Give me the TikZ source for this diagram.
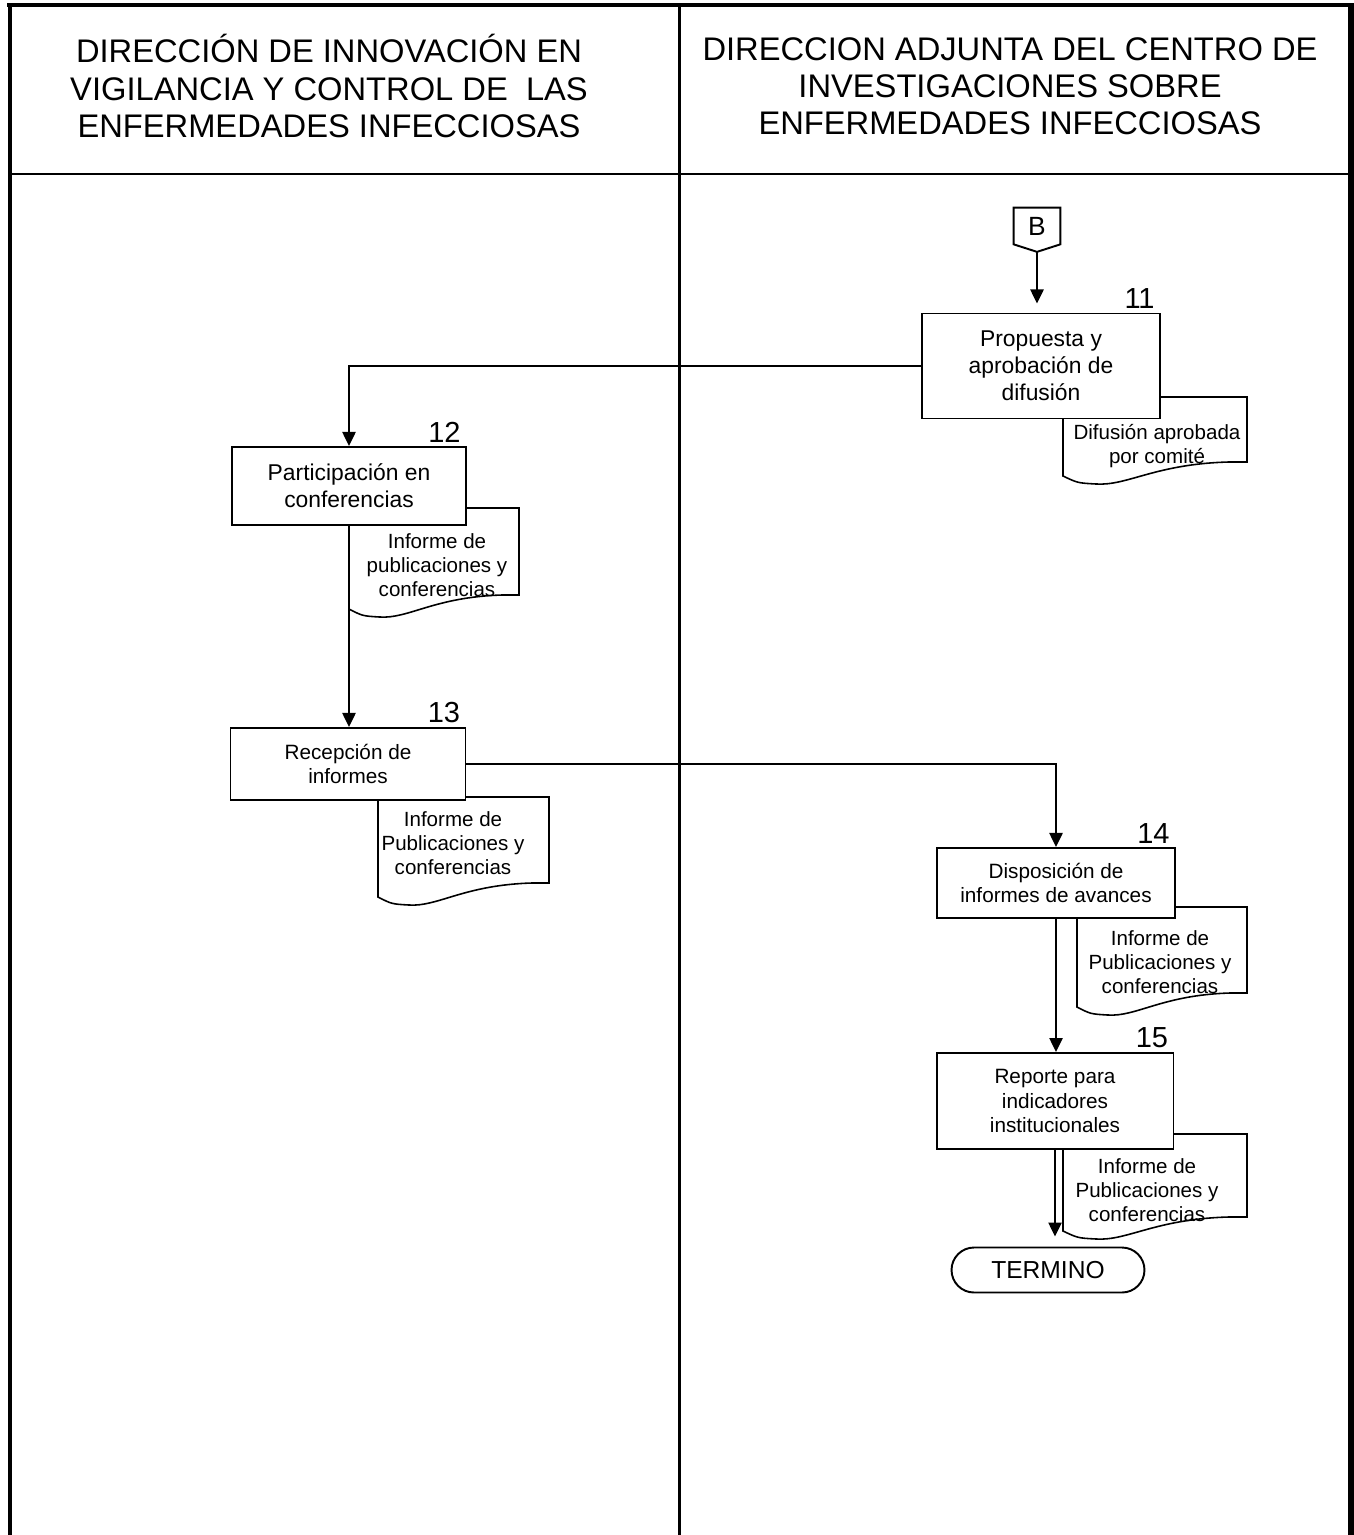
\documentclass[tikz,border=0pt]{standalone}
\usepackage{fontspec}
\setmainfont{Liberation Sans}
\usetikzlibrary{arrows.meta, positioning, shapes.misc}
\tikzset{
  box/.style={draw, line width=1.1pt, fill=white, align=center, inner sep=0pt, minimum width=4.76cm},
  boxbig/.style={box, font=\fontsize{13}{15.5}\selectfont},
  boxsmall/.style={box, font=\fontsize{11.8}{14}\selectfont},
  doctext/.style={align=center, inner sep=0pt, font=\fontsize{11.7}{13.6}\selectfont},
  num/.style={inner sep=0pt, font=\fontsize{16.5}{19}\selectfont},
  arr/.style={-{Triangle[length=8pt, width=7.5pt]}, line width=1.1pt},
  lane/.style={line width=#1},
  head/.style={align=center, font=\fontsize{18.6}{21.2}\selectfont},
}
% document symbol: left, top, right, bottom
\newcommand{\docshape}[4]{%
  \draw[line width=0.9pt, fill=white] (#1,#2) -- (#3,#2) -- (#3,#4) -- ({#3-0.1*(#3-#1)},#4)
    .. controls ({#1+0.5*(#3-#1)},{#4+2}) and ({#1+0.35*(#3-#1)},{#4+24}) .. ({#1+0.18*(#3-#1)},{#4+22})
    .. controls ({#1+0.08*(#3-#1)},{#4+21}) .. (#1,{#4+14}) -- cycle;}

\begin{document}
\begin{tikzpicture}[x=0.02cm, y=-0.02cm]
  \useasboundingbox (0,0) rectangle (1354,1535);
  % lanes
  \draw[lane=2.8pt] (7,5) -- (1354,5);
  \draw[lane=2.8pt] (10,3) -- (10,1535);
  \draw[lane=3.4pt] (1351,3) -- (1351,1535);
  \draw[lane=1.7pt] (679,5) -- (679,1535);
  \draw[lane=1.7pt] (10,174) -- (1351,174);
  \node[head] (hdA) at (329,86)
    {DIRECCIÓN DE INNOVACIÓN EN\\VIGILANCIA Y CONTROL DE\ \ LAS\\ENFERMEDADES INFECCIOSAS};
  \node[head] (hdB) at (1010,86)
    {DIRECCION ADJUNTA DEL CENTRO DE\\INVESTIGACIONES SOBRE\\ENFERMEDADES INFECCIOSAS};

  % documents
  \docshape{1063}{397}{1247}{462}
  \node[doctext] (d11) at (1157,446) {Difusión aprobada\\por comité};
  \docshape{349}{508}{519}{595}
  \node[doctext] (d12) at (437,565) {Informe de\\publicaciones y\\conferencias};
  \docshape{378}{797}{549}{883}
  \node[doctext] (d13) at (453,843) {Informe de\\Publicaciones y\\conferencias};
  \docshape{1077}{907}{1247}{993}
  \node[doctext] (d14) at (1160,962) {Informe de\\Publicaciones y\\conferencias};
  \docshape{1063}{1134}{1247}{1217}
  \node[doctext] (d15) at (1147,1190) {Informe de\\Publicaciones y\\conferencias};

  % steps
  \node[inner sep=0pt, minimum width=0.92cm, minimum height=0.72cm, font=\fontsize{15}{17}\selectfont] (B) at (1037,226) {B};
  \draw[line width=1.1pt] (B.north west) -- (B.north east) -- (B.south east) -- ([yshift=-0.15cm]B.south) -- (B.south west) -- cycle;
  \coordinate (Btip) at ([yshift=-0.15cm]B.south);

  \node[boxbig, minimum height=2.1cm] (b11) at (1041,366) {Propuesta y\\aprobación de\\difusión};
  \node[num, above left=2pt and 1.2mm of b11.north east] (n11) {11};
  \node[boxbig, minimum height=1.56cm, minimum width=4.68cm] (b12) at (349,486) {Participación en\\conferencias};
  \node[num, above left=2pt and 1.2mm of b12.north east] (n12) {12};
  \node[boxsmall, minimum height=1.44cm, minimum width=4.7cm] (b13) at (348,764) {Recepción de\\informes};
  \node[num, above left=2pt and 1.2mm of b13.north east] (n13) {13};
  \node[boxsmall, minimum height=1.4cm] (b14) at (1056,883) {Disposición de\\informes de avances};
  \node[num, above left=2pt and 1.2mm of b14.north east] (n14) {14};
  \node[boxsmall, minimum height=1.92cm, minimum width=4.74cm] (b15) at (1055,1101) {Reporte para\\indicadores\\institucionales};
  \node[num, above left=2pt and 1.2mm of b15.north east] (n15) {15};
  \node[draw, rounded rectangle, line width=1.1pt, inner sep=0pt, minimum width=3.86cm, minimum height=0.9cm,
    font=\fontsize{14}{16}\selectfont] (fin) at (1048,1270) {TERMINO};

  % flow
  \draw[arr, shorten >=0.18cm] (Btip) -- (Btip |- b11.north);
  \draw[arr] (b11.west) -| (b12.north);
  \draw[arr] (b12.south) -- (b12.south |- b13.north);
  \draw[arr] (b13.east) -| (b14.north);
  \draw[arr] (b14.south) -- (b14.south |- b15.north);
  \draw[arr, shorten >=0.2cm] (b15.south) -- (b15.south |- fin.north);
\end{tikzpicture}
\end{document}
